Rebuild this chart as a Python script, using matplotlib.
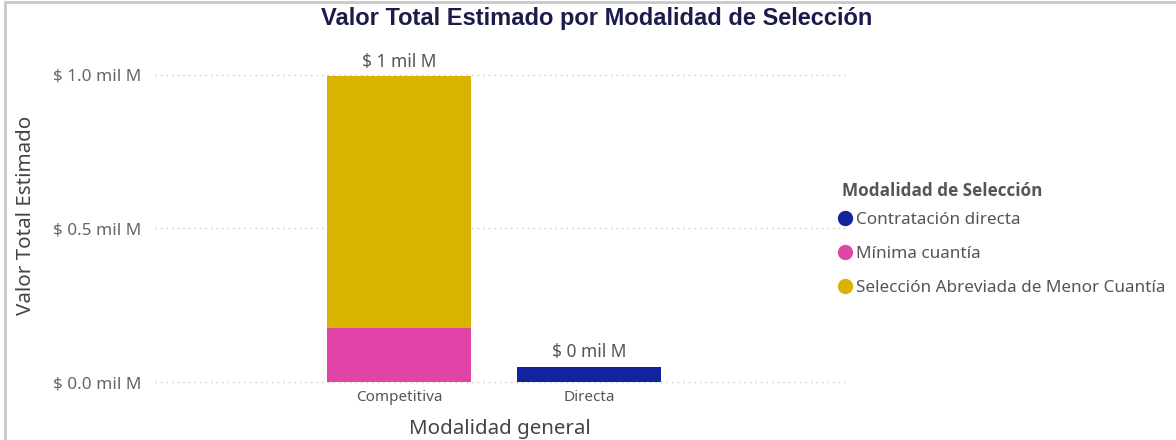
import matplotlib.pyplot as plt
from matplotlib.lines import Line2D
from matplotlib.patches import Rectangle
import numpy as np

plt.rcParams['font.family'] = ['Noto Sans', 'DejaVu Sans']

# Datos (en miles de millones)
categorias = ['Competitiva', 'Directa']
series = ['Contratación directa', 'Mínima cuantía', 'Selección Abreviada de Menor Cuantía']
valores = {
    'Contratación directa': [0.0, 0.049],
    'Mínima cuantía': [0.176, 0.0],
    'Selección Abreviada de Menor Cuantía': [0.820, 0.0],
}
etiquetas_total = ['$ 1 mil M', '$ 0 mil M']
ticks_y = [0.0, 0.5, 1.0]
etiquetas_y = ['$ 0.0 mil M', '$ 0.5 mil M', '$ 1.0 mil M']

colores = {
    'Contratación directa': '#12239E',
    'Mínima cuantía': '#E044A7',
    'Selección Abreviada de Menor Cuantía': '#D9B300',
}

W, H = 1176, 440
fig = plt.figure(figsize=(W / 100, H / 100), dpi=100)

# marco gris
fig.patches.append(Rectangle((5 / W, -0.01), 1.2, 1 - 2 / H + 0.01, transform=fig.transFigure,
                             fill=False, edgecolor='#c8c8c8', linewidth=2))

ax = fig.add_axes([155 / W, (H - 382) / H, 690 / W, 307 / H])

x = np.arange(len(categorias))
bottom = np.zeros(len(categorias))
orden = ['Mínima cuantía', 'Selección Abreviada de Menor Cuantía', 'Contratación directa']
for s in orden:
    v = np.array(valores[s])
    ax.bar(x, v, bottom=bottom, width=0.76, color=colores[s], zorder=3)
    bottom += v

for i, t in enumerate(etiquetas_total):
    ax.annotate(t, (x[i], bottom[i]), xytext=(0, 4), textcoords='offset points',
                ha='center', va='bottom', fontsize=12.5, color='#555555', annotation_clip=False)

ax.set_xlim(-1.284, 2.347)
ax.set_ylim(0, 1.0)
ax.set_xticks(x)
ax.set_xticklabels(categorias, fontsize=11, color='#555555')
ax.set_yticks(ticks_y)
ax.set_yticklabels(etiquetas_y, fontsize=12.3, color='#666666')
ax.tick_params(length=0, pad=10)
ax.tick_params(axis='x', pad=6)
for t in ticks_y:
    ax.axhline(t, color='#c8c8c8', linestyle=(0, (1, 3)), linewidth=1, zorder=1, clip_on=False)
for sp in ax.spines.values():
    sp.set_visible(False)

ax.set_xlabel('Modalidad general', fontsize=14.8, color='#444444', labelpad=10)
fig.text(26 / W, 1 - 215 / H, 'Valor Total Estimado', rotation=90, ha='center', va='center',
         fontsize=14.8, color='#444444')

fig.text(597 / W, 1 - 19 / H, 'Valor Total Estimado por Modalidad de Selección',
         ha='center', va='center', fontsize=17, fontweight='bold', color='#1c1c4a',
         family=['Liberation Sans', 'DejaVu Sans'])

# leyenda: título aparte para controlar el espaciado
fig.text(842 / W, 1 - 191 / H, 'Modalidad de Selección', ha='left', va='center',
         fontsize=12.3, fontweight='bold', color='#555555', family=['Open Sans', 'DejaVu Sans'])
handles = [Line2D([], [], linestyle='none', marker='o', markersize=10,
                  markerfacecolor=colores[s], markeredgecolor=colores[s]) for s in series]
leg = fig.legend(handles, series, loc='upper left', bbox_to_anchor=(840 / W, 1 - 212 / H),
                 frameon=False, fontsize=12.3, handlelength=0.6, handletextpad=0.35,
                 labelspacing=1.05, borderaxespad=0, borderpad=0)
for t in leg.get_texts():
    t.set_color('#555555')

fig.savefig('out.png', dpi=100)
